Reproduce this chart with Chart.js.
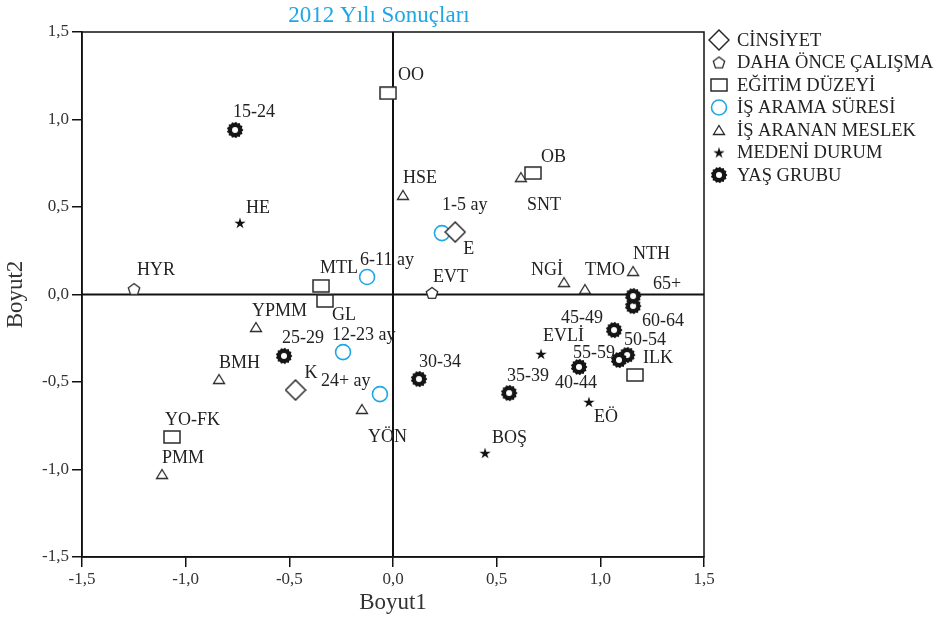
<!DOCTYPE html>
<html><head><meta charset="utf-8">
<script src="https://cdn.jsdelivr.net/npm/chart.js@4/dist/chart.umd.min.js"></script>
<style>html,body{margin:0;padding:0;background:#fff}</style>
</head><body>
<canvas id="c" width="939" height="619"></canvas>
<script>
// ---- data ----
const groupNames = ["CİNSİYET","DAHA ÖNCE ÇALIŞMA","EĞİTİM DÜZEYİ","İŞ ARAMA SÜRESİ","İŞ ARANAN MESLEK","MEDENİ DURUM","YAŞ GRUBU"];

const cinsiyetLabels = ["E","K"];
const cinsiyetX = [0.30,-0.47];
const cinsiyetY = [0.357,-0.546];

const calismaLabels = ["HYR","EVT"];
const calismaX = [-1.249,0.188];
const calismaY = [0.031,0.009];

const egitimLabels = ["OO","OB","MTL","GL","YO-FK","ILK"];
const egitimX = [-0.024,0.675,-0.347,-0.328,-1.066,1.167];
const egitimY = [1.151,0.694,0.049,-0.037,-0.814,-0.46];

const aramaLabels = ["1-5 ay","6-11 ay","12-23 ay","24+ ay"];
const aramaX = [0.236,-0.125,-0.241,-0.063];
const aramaY = [0.351,0.10,-0.329,-0.569];

const meslekLabels = ["HSE","SNT","NGİ","TMO","NTH","YPMM","BMH","YÖN","PMM"];
const meslekX = [0.048,0.617,0.825,0.926,1.158,-0.661,-0.839,-0.15,-1.114];
const meslekY = [0.569,0.671,0.071,0.031,0.134,-0.186,-0.483,-0.654,-1.026];

const medeniLabels = ["HE","EVLİ","EÖ","BOŞ"];
const medeniX = [-0.738,0.714,0.945,0.444];
const medeniY = [0.409,-0.34,-0.614,-0.906];

const yasLabels = ["15-24","25-29","30-34","35-39","40-44","45-49","50-54","55-59","60-64","65+"];
const yasX = [-0.762,-0.526,0.125,0.56,0.897,1.066,1.129,1.09,1.158,1.158];
const yasY = [0.94,-0.351,-0.483,-0.563,-0.414,-0.203,-0.346,-0.374,-0.066,-0.009];

const tickValues = [-1.5,-1.0,-0.5,0.0,0.5,1.0,1.5];
const titleText = "2012 Yılı Sonuçları";
const xTitle = "Boyut1";
const yTitle = "Boyut2";

// ---- label placement (pixel offsets: left edge, vertical middle) ----
const labelOffsets = {
  "E":[8,17],"K":[9,-17],"HYR":[3,-19],"EVT":[1,-16],
  "OO":[10,-18],"OB":[8,-16],"MTL":[-1,-18],"GL":[7,14],"YO-FK":[-7,-17],"ILK":[8,-17],
  "1-5 ay":[0,-28],"6-11 ay":[-7,-17],"12-23 ay":[-11,-17],"24+ ay":[-59,-13],
  "HSE":[0,-17],"SNT":[6,28],"NGİ":[-33,-12],"TMO":[0,-19],"NTH":[0,-17],
  "YPMM":[-4,-16],"BMH":[0,-16],"YÖN":[6,28],"PMM":[0,-16],
  "HE":[6,-15],"EVLİ":[2,-18],"EÖ":[5,15],"BOŞ":[7,-15],
  "15-24":[-2,-18],"25-29":[-2,-18],"30-34":[0,-17],"35-39":[-2,-17],"40-44":[-24,16],
  "45-49":[-53,-12],"50-54":[-3,-15],"55-59":[-46,-7],"60-64":[9,15],"65+":[20,-12]
};

// ---- marker images ----
function mk(w,h,fn){const c=document.createElement('canvas');c.width=w;c.height=h;const g=c.getContext('2d');fn(g,w,h);return c;}
const INK='#2a2a2a';
const diamondImg = mk(22,22,(g)=>{g.strokeStyle=INK;g.lineWidth=1.5;g.beginPath();g.moveTo(11,1);g.lineTo(21,11);g.lineTo(11,21);g.lineTo(1,11);g.closePath();g.fillStyle='#fff';g.fill();g.stroke();});
const pentImg = mk(14,14,(g)=>{g.strokeStyle=INK;g.lineWidth=1.3;g.beginPath();for(let i=0;i<5;i++){const a=-Math.PI/2+i*2*Math.PI/5;const x=7+6*Math.cos(a),y=7.5+6*Math.sin(a);i?g.lineTo(x,y):g.moveTo(x,y);}g.closePath();g.fillStyle='#fff';g.fill();g.stroke();});
const rectImg = mk(18,14,(g)=>{g.strokeStyle=INK;g.lineWidth=1.5;g.fillStyle='#fff';g.fillRect(1,1,16,12);g.strokeRect(1,1,16,12);});
const triImg = mk(14,12,(g)=>{g.strokeStyle=INK;g.lineWidth=1.3;g.beginPath();g.moveTo(7,1.5);g.lineTo(12.5,10.5);g.lineTo(1.5,10.5);g.closePath();g.fillStyle='#fff';g.fill();g.stroke();});
const starImg = mk(14,14,(g)=>{g.fillStyle='#111';g.beginPath();for(let i=0;i<10;i++){const a=-Math.PI/2+i*Math.PI/5;const r=i%2?2.2:6;const x=7+r*Math.cos(a),y=7.5+r*Math.sin(a);i?g.lineTo(x,y):g.moveTo(x,y);}g.closePath();g.fill();});
const gearImg = mk(18,18,(g)=>{g.fillStyle='#151515';g.beginPath();const n=13;for(let i=0;i<n*2;i++){const a=i*Math.PI/n;const r=i%2?7.0:8.4;const x=9+r*Math.cos(a),y=9+r*Math.sin(a);i?g.lineTo(x,y):g.moveTo(x,y);}g.closePath();g.fill();g.fillStyle='#fff';g.beginPath();g.arc(9,9,3.0,0,2*Math.PI);g.fill();});

const styles = [diamondImg,pentImg,rectImg,'circle',triImg,starImg,gearImg];
const groupLabels=[cinsiyetLabels,calismaLabels,egitimLabels,aramaLabels,meslekLabels,medeniLabels,yasLabels];
const groupX=[cinsiyetX,calismaX,egitimX,aramaX,meslekX,medeniX,yasX];
const groupY=[cinsiyetY,calismaY,egitimY,aramaY,meslekY,medeniY,yasY];

const datasets = groupNames.map((name,gi)=>({
  label:name,
  data:groupX[gi].map((x,i)=>({x:x,y:groupY[gi][i],name:groupLabels[gi][i]})),
  pointStyle:styles[gi],
  pointRadius: gi===3?7.5:8,
  pointHoverRadius: gi===3?7.5:8,
  borderColor: gi===3?'#1ea7e4':INK,
  backgroundColor: gi===3?'rgba(255,255,255,0)':INK,
  borderWidth: gi===3?1.6:1,
  showLine:false
}));

const SERIF = '"Liberation Serif","DejaVu Serif",serif';
const fmt = v => (v<0?'-':'') + Math.abs(v).toFixed(1).replace('.',',');

const decor = {
  id:'decor',
  beforeDatasetsDraw(chart){
    const {ctx,chartArea:a,scales:{x,y}}=chart;
    ctx.save();
    ctx.strokeStyle='#111';ctx.lineWidth=1.5;
    ctx.strokeRect(a.left,a.top,a.right-a.left,a.bottom-a.top);
    ctx.lineWidth=2;
    const x0=x.getPixelForValue(0), y0=y.getPixelForValue(0);
    ctx.beginPath();ctx.moveTo(x0,a.top);ctx.lineTo(x0,a.bottom);ctx.moveTo(a.left,y0);ctx.lineTo(a.right,y0);ctx.stroke();
    ctx.restore();
  },
  afterDatasetsDraw(chart){
    const ctx=chart.ctx;
    ctx.save();
    ctx.font='18px '+SERIF;ctx.fillStyle='#222';ctx.textAlign='left';ctx.textBaseline='middle';
    chart.data.datasets.forEach((ds,di)=>{
      const meta=chart.getDatasetMeta(di);
      ds.data.forEach((p,i)=>{
        const el=meta.data[i];const off=labelOffsets[p.name]||[6,-16];
        ctx.fillText(p.name, el.x+off[0], el.y+off[1]);
      });
    });
    // title
    ctx.font='23px '+SERIF;ctx.fillStyle='#1ea7e4';ctx.textAlign='center';
    ctx.fillText(titleText,379,16);
    // legend
    ctx.font='18.5px '+SERIF;ctx.fillStyle='#222';ctx.textAlign='left';
    chart.data.datasets.forEach((ds,di)=>{
      const cy=40+di*22.5;
      const st=ds.pointStyle;
      if(st==='circle'){ctx.strokeStyle='#1ea7e4';ctx.lineWidth=1.6;ctx.beginPath();ctx.arc(719,cy,7.5,0,2*Math.PI);ctx.stroke();}
      else {ctx.drawImage(st,719-st.width/2,cy-st.height/2);}
      ctx.fillText(ds.label,737,cy+1);
    });
    ctx.restore();
  }
};

new Chart(document.getElementById('c'),{
  type:'scatter',
  data:{datasets},
  options:{
    responsive:false,animation:false,
    layout:{padding:{top:32,right:235,left:0,bottom:0}},
    plugins:{legend:{display:false},tooltip:{enabled:false},title:{display:false}},
    scales:{
      x:{type:'linear',min:-1.5,max:1.5,
        afterBuildTicks:s=>{s.ticks=tickValues.map(v=>({value:v}));},
        afterFit:s=>{s.height=62;},
        grid:{drawOnChartArea:false,drawTicks:true,tickLength:10,color:'#111',lineWidth:1.5},
        border:{display:true,color:'#111',width:1.5},
        ticks:{callback:fmt,font:{family:SERIF,size:17},color:'#333',padding:2,maxRotation:0},
        title:{display:true,text:xTitle,font:{family:SERIF,size:23},color:'#333',padding:{top:0,bottom:2}}
      },
      y:{type:'linear',min:-1.5,max:1.5,
        afterBuildTicks:s=>{s.ticks=tickValues.map(v=>({value:v}));},
        afterFit:s=>{s.width=82;},
        grid:{drawOnChartArea:false,drawTicks:true,tickLength:10,color:'#111',lineWidth:1.5},
        border:{display:true,color:'#111',width:1.5},
        ticks:{callback:fmt,font:{family:SERIF,size:17},color:'#333',padding:3},
        title:{display:true,text:yTitle,font:{family:SERIF,size:23},color:'#333',padding:{top:2,bottom:0}}
      }
    }
  },
  plugins:[decor]
});
</script>
</body></html>
